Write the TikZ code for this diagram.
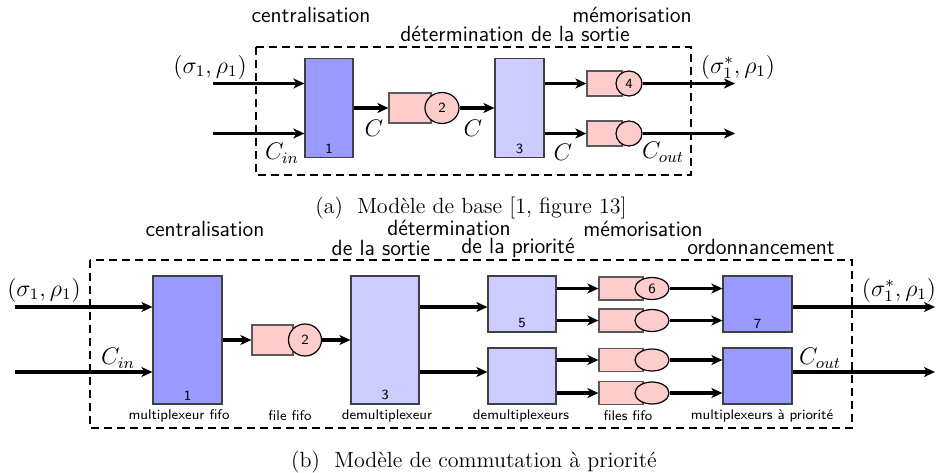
\documentclass[tikz,border=0pt]{standalone}
\usepackage{fontspec}
\usepackage{tikz}
\usetikzlibrary{arrows.meta, shapes.geometric, positioning}

\begin{document}
\begin{tikzpicture}[
    x=0.5pt, y=-0.5pt,
    blk/.style={draw=black!75, line width=0.6pt, inner sep=0pt},
    blkdark/.style={blk, fill=blue!40},
    blklight/.style={blk, fill=blue!20},
    num/.style={font=\sffamily\fontsize{7}{8}\selectfont, inner sep=1pt},
    fifo/.style={draw=black!65, line width=0.6pt, fill=red!20, inner sep=0pt},
    srv/.style={ellipse, draw, line width=0.6pt, fill=red!20, inner sep=0pt, num},
    arr/.style={-{Stealth[length=5.5pt, width=5pt, inset=1.5pt]}, line width=1.6pt},
    frame/.style={dash pattern=on 4pt off 2.5pt, line width=0.8pt},
    phase/.style={font=\sffamily\fontsize{11}{13}\selectfont, inner sep=0pt},
    part/.style={font=\sffamily\scriptsize, inner sep=0pt},
    flow/.style={font=\large, inner sep=0pt},
    caption/.style={font=\fontsize{11}{13}\selectfont, inner sep=0pt},
]
\useasboundingbox (0,0) rectangle (936,472);

% (a) modele de base
\node[phase] (phA1) at (311,15) {centralisation};
\node[phase] (phA2) at (515,34) {détermination de la sortie};
\node[phase] (phA3) at (632,15) {mémorisation};
\draw[frame] (256,47) rectangle (691,175);

\node[blkdark, minimum width=24pt, minimum height=49.5pt, label={[num, above=1pt]south:1}] (a1) at (329,108) {};
\node[fifo, minimum width=21pt, minimum height=15pt] (a2f) at (410,108) {};
\node[srv, minimum width=17pt, minimum height=15.5pt] (a2s) at (442,108) {2};
\node[blklight, minimum width=24.5pt, minimum height=49.5pt, label={[num, above=1pt]south:3}] (a3) at (519.5,108) {};
\node[fifo, minimum width=17.5pt, minimum height=12.5pt] (a4f) at (604.5,83.5) {};
\node[srv, minimum width=13pt, minimum height=12.5pt] (a4s) at (629,83.5) {4};
\node[fifo, minimum width=17.5pt, minimum height=12.5pt] (a5f) at (604.5,133.5) {};
\node[srv, minimum width=13pt, minimum height=12.5pt] (a5s) at (629,133.5) {};

\coordinate (inA1) at (213,83.5);
\coordinate (inA2) at (213,133.5);
\coordinate (outA1) at (735,83.5);
\coordinate (outA2) at (735,133.5);

\draw[arr] (inA1) -- (inA1 -| a1.west);
\draw[arr] (inA2) -- (inA2 -| a1.west);
\draw[arr] (a1) -- (a2f);
\draw[arr] (a2s) -- (a3);
\draw[arr] (a4f -| a3.east) -- (a4f);
\draw[arr] (a5f -| a3.east) -- (a5f);
\draw[arr] (a4s) -- (outA1);
\draw[arr] (a5s) -- (outA2);

\node[flow] (sA1) at (210,67) {$(\sigma_1,\rho_1)$};
\node[flow] (cinA) at (282,153) {$C_{in}$};
\node[flow] (cA1) at (374,128) {$C$};
\node[flow] (cA2) at (473,128) {$C$};
\node[flow] (cA3) at (563,152) {$C$};
\node[flow] (coutA) at (663,152) {$C_{out}$};
\node[flow] (sA2) at (738,67) {$(\sigma_1^*,\rho_1)$};

\node[caption] (capA) at (471,208) {(a)~~Modèle de base [1, figure 13]};

% (b) modele de commutation a priorite
\node[phase] (phB1) at (205,229) {centralisation};
\node[phase] (phB2) at (449,228) {détermination};
\node[phase] (phB3) at (381,248) {de la sortie};
\node[phase] (phB4) at (518,248) {de la priorité};
\node[phase] (phB5) at (643,229) {mémorisation};
\node[phase] (phB6) at (761,247) {ordonnancement};
\draw[frame] (90,260) rectangle (852,428);

\node[blkdark, minimum width=34.5pt, minimum height=64pt, label={[num, above=1pt]south:1}] (b1) at (187.5,340) {};
\node[fifo, minimum width=20.5pt, minimum height=15pt] (b2f) at (272.5,340) {};
\node[srv, minimum width=16.5pt, minimum height=16pt] (b2s) at (305,340) {2};
\node[blklight, minimum width=34pt, minimum height=64pt, label={[num, above=1pt]south:3}] (b3) at (385,340) {};
\node[blklight, minimum width=34pt, minimum height=28pt, label={[num, above=1pt]south:5}] (b5) at (522,304) {};
\node[blklight, minimum width=34pt, minimum height=28pt] (b5b) at (522,376) {};

\node[fifo, minimum width=22pt, minimum height=11.5pt] (b6f) at (621,288.5) {};
\node[srv, minimum width=17pt, minimum height=11pt] (b6s) at (652,288.5) {6};
\node[fifo, minimum width=22pt, minimum height=11.5pt] (b6bf) at (621,320.5) {};
\node[srv, minimum width=17pt, minimum height=11pt] (b6bs) at (652,320.5) {};
\node[fifo, minimum width=22pt, minimum height=11.5pt] (b6cf) at (621,360) {};
\node[srv, minimum width=17pt, minimum height=11pt] (b6cs) at (652,360) {};
\node[fifo, minimum width=22pt, minimum height=11.5pt] (b6df) at (621,393) {};
\node[srv, minimum width=17pt, minimum height=11pt] (b6ds) at (652,393) {};

\node[blkdark, minimum width=34.5pt, minimum height=28pt, label={[num, above=1pt]south:7}] (b7) at (757.5,304) {};
\node[blkdark, minimum width=34.5pt, minimum height=28pt] (b7b) at (757.5,376) {};

\coordinate (inB1) at (15,307);
\coordinate (inB2) at (15,372);
\coordinate (outB1) at (935,307);
\coordinate (outB2) at (935,372);

\draw[arr] (inB1) -- (inB1 -| b1.west);
\draw[arr] (inB2) -- (inB2 -| b1.west);
\draw[arr] (b1) -- (b2f);
\draw[arr] (b2s) -- (b3);
\draw[arr] (inB1 -| b3.east) -- (inB1 -| b5.west);
\draw[arr] (inB2 -| b3.east) -- (inB2 -| b5b.west);
\draw[arr] (b6f -| b5.east) -- (b6f);
\draw[arr] (b6bf -| b5.east) -- (b6bf);
\draw[arr] (b6cf -| b5b.east) -- (b6cf);
\draw[arr] (b6df -| b5b.east) -- (b6df);
\draw[arr] (b6s) -- (b6s -| b7.west);
\draw[arr] (b6bs) -- (b6bs -| b7.west);
\draw[arr] (b6cs) -- (b6cs -| b7b.west);
\draw[arr] (b6ds) -- (b6ds -| b7b.west);
\draw[arr] (inB1 -| b7.east) -- (outB1);
\draw[arr] (inB2 -| b7b.east) -- (outB2);

\node[part] (lb1) at (179,416) {multiplexeur fifo};
\node[part] (lb2) at (290,416) {file fifo};
\node[part] (lb3) at (387,416) {demultiplexeur};
\node[part] (lb5) at (521,416) {demultiplexeurs};
\node[part] (lb6) at (628,416) {files fifo};
\node[part] (lb7) at (762,416) {multiplexeurs à priorité};

\node[flow] (sB1) at (44,290) {$(\sigma_1,\rho_1)$};
\node[flow] (cinB) at (118,358) {$C_{in}$};
\node[flow] (coutB) at (820,358) {$C_{out}$};
\node[flow] (sB2) at (899,290) {$(\sigma_1^*,\rho_1)$};

\node[caption] (capB) at (474,462) {(b)~~Modèle de commutation à priorité};
\end{tikzpicture}
\end{document}
